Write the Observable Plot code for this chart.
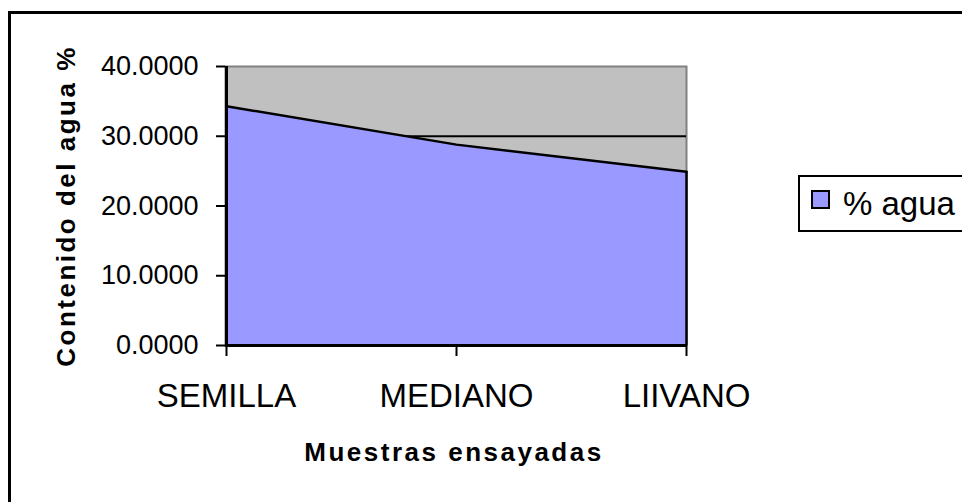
<!DOCTYPE html>
<html>
<head>
<meta charset="utf-8">
<script src="https://cdn.jsdelivr.net/npm/d3@7"></script>
<script src="https://cdn.jsdelivr.net/npm/@observablehq/plot@0.6"></script>
<style>
  html, body { margin: 0; padding: 0; background: #fff; }
  #wrap { position: relative; width: 962px; height: 502px; overflow: hidden; background: #fff; font-family: "Liberation Sans", Arial, sans-serif; }
  #frame { position: absolute; left: 8px; top: 11px; width: 1000px; height: 600px; border: 3px solid #000; box-sizing: border-box; pointer-events: none; }
  #legend { position: absolute; left: 798px; top: 175px; width: 300px; height: 57px; border: 2px solid #000; box-sizing: border-box; background: #fff; }
  #legend .sw { position: absolute; left: 11px; top: 13px; width: 19px; height: 19px; background: #9999FF; border: 2px solid #000; box-sizing: border-box; }
  #legend .lb { position: absolute; left: 43px; top: 8px; font-size: 33px; line-height: 38px; color: #000; white-space: nowrap; }
  #chart { position: absolute; left: 0; top: 0; }
</style>
</head>
<body>
<div id="wrap">
  <div id="chart"></div>
  <div id="frame"></div>
  <div id="legend"><div class="sw"></div><div class="lb"></div></div>
</div>
<script>
const categories = ["SEMILLA", "MEDIANO", "LIIVANO"];
const aguaValues = [34.3, 28.8, 24.9];
const yTicks = [0, 10, 20, 30, 40];
const gridValues = [10, 20, 30];
const seriesName = "% agua";
const xTitle = "Muestras ensayadas";
const yTitle = "Contenido del agua %";

const data = categories.map((c, i) => ({cat: c, val: aguaValues[i]}));
const last = data[data.length - 1];

const chart = Plot.plot({
  width: 962,
  height: 502,
  marginLeft: 225,
  marginRight: 276,
  marginTop: 66,
  marginBottom: 157,
  style: {fontFamily: "'Liberation Sans', Arial, sans-serif", color: "#000", background: "transparent"},
  x: {type: "point", domain: categories, padding: 0},
  y: {domain: [0, 40]},
  marks: [
    Plot.frame({fill: "#C0C0C0", stroke: "#808080", strokeWidth: 2}),
    Plot.ruleY(gridValues, {stroke: "#000", strokeWidth: 2}),
    Plot.areaY(data, {x: "cat", y: "val", fill: "#9999FF"}),
    Plot.lineY(data, {x: "cat", y: "val", stroke: "#000", strokeWidth: 2.5}),
    Plot.ruleX([last], {x: "cat", y1: 0, y2: "val", stroke: "#000", strokeWidth: 2.5}),
    Plot.ruleX([categories[0]], {y1: 0, y2: 40, stroke: "#000", strokeWidth: 3}),
    Plot.ruleY([0], {stroke: "#000", strokeWidth: 3}),
    Plot.axisY({ticks: yTicks, tickFormat: d => d.toFixed(4), tickSize: 9, tickPadding: 18, fontSize: 27, strokeWidth: 2, label: null}),
    Plot.axisX({tickSize: 11, tickPadding: 27, fontSize: 33, strokeWidth: 2, label: null}),
    Plot.text([xTitle], {frameAnchor: "bottom", text: d => d, dy: 107, dx: -2, fontSize: 26, fontWeight: "bold", textAnchor: "middle", lineAnchor: "middle"}),
    Plot.text([yTitle], {frameAnchor: "left", text: d => d, dx: -159, dy: 0, rotate: -90, fontSize: 26, fontWeight: "bold", textAnchor: "middle", lineAnchor: "middle"})
  ]
});

document.getElementById("chart").appendChild(chart);
d3.select(chart).selectAll("text")
  .filter(function () { return this.textContent === xTitle || this.textContent === yTitle; })
  .style("letter-spacing", "2.5px");
document.querySelector("#legend .lb").textContent = seriesName;
</script>
</body>
</html>
